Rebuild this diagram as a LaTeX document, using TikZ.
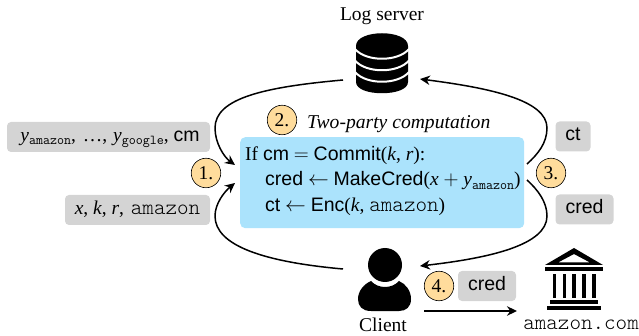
\documentclass[tikz,border=0pt]{standalone}
\usepackage{fontspec}
\setmainfont{Liberation Serif}
\setsansfont{Liberation Sans}
\usetikzlibrary{arrows.meta}
\newcommand{\sv}[1]{\textsf{#1}}
\newcommand{\iv}[1]{\textit{#1}}
\newcommand{\ttv}[1]{{\fontsize{22}{24}\selectfont\fontspec{Latin Modern Mono Light}#1}}
\newcommand{\subtt}[1]{\raisebox{-3.5pt}{\fontsize{13.6}{15}\selectfont\fontspec{Latin Modern Mono}#1}}
\definecolor{stepfill}{HTML}{FFDC9C}
\definecolor{boxblue}{HTML}{ABE3FC}
\tikzset{
  x=1pt,y=-1pt,
  tag/.style={fill=black!17,rounded corners=4pt,inner sep=0pt,font=\fontsize{19.5}{22}\selectfont,minimum height=30pt,text height=13pt,text depth=4pt},
  step num/.style={circle,draw=black,line width=.6pt,fill=stepfill,minimum size=29.5pt,inner sep=0pt,font=\fontsize{19.5}{22}\selectfont},
  flow/.style={line width=1.5pt,-{Stealth[length=10pt,width=9.5pt]}},
  lab/.style={inner sep=0pt,font=\fontsize{19.5}{22}\selectfont},
}
\begin{document}
\begin{tikzpicture}
\useasboundingbox (0,0) rectangle (639,336);
% blue box
\node[fill=boxblue,rounded corners=5pt,anchor=north west,minimum width=284pt,minimum height=91pt,inner sep=0pt] (mpc) at (240,137) {};
\node[anchor=north west,inner sep=0pt,align=left,font=\fontsize{19.5}{25.5}\selectfont] (mpctext) at (245,146)
 {If \sv{cm} $=$ \sv{Commit}(\iv{k}, \iv{r}):\\
  \hspace*{20pt}\sv{cred} $\leftarrow$ \sv{MakeCred}(\iv{x} $+$ \iv{y}\subtt{amazon})\\
  \hspace*{20pt}\sv{ct} $\leftarrow$ \sv{Enc}(\iv{k}, \ttv{amazon})};
% tags
\node[tag,minimum width=203pt] (t1) at (108.5,137) {\hspace*{3pt}\iv{y}\subtt{amazon},\hspace{2pt} \dots,\hspace{1pt} \iv{y}\subtt{google}, \sv{cm}};
\node[tag,minimum width=145pt] (t2) at (137.5,210) {\iv{x}, \iv{k}, \iv{r},\hspace{2pt} \ttv{amazon}};
\node[tag,minimum width=35pt] (t3) at (573,136.5) {\sv{ct}};
\node[tag,minimum width=58pt] (t4) at (584.5,209.5) {\sv{cred}};
\node[tag,minimum width=58pt] (t5) at (487,286) {\sv{cred}};
% step circles
\node[step num] (s1) at (206,173) {1.};
\node[step num] (s2) at (282,120) {2.};
\node[step num] (s3) at (551,173) {3.};
\node[step num] (s4) at (439,286) {4.};
\node[inner sep=0pt,anchor=west,font=\fontsize{19.6}{22}\itshape] (tpc) at (307,124) {Two-party computation};
% labels
\node[lab] (logl) at (382,16) {Log server};
\node[lab] (clientl) at (383,325) {Client};
\node[inner sep=0pt,anchor=east] (amzl) at (639,325) {\ttv{amazon.com}};
% database icon
\fill (356,46) .. controls (356,29) and (408,29) .. (408,46) -- (408,82) .. controls (408,97) and (356,97) .. (356,82) -- cycle;
\foreach \dy in {0,11.5,23}{
  \draw[white,line width=2pt] (355,49+\dy) .. controls (366,62+\dy) and (398,62+\dy) .. (409,49+\dy);
}
% person icon
\fill (385,265) circle[radius=17];
\fill (371,281) .. controls (378,289) and (392,289) .. (399,281) .. controls (406,284) and (411,291) .. (411,299) .. controls (411,307) and (406,311) .. (399,311) -- (371,311) .. controls (362,311) and (358,306) .. (358,299) .. controls (358,291) and (364,284) .. (371,281) -- cycle;
% bank icon
\fill[even odd rule] (574,248) -- (603,265) -- (545,265) -- cycle (574,254) -- (590,262.5) -- (558,262.5) -- cycle;
\fill (545,267.5) rectangle (603,271.5);
\foreach \bx in {552.5,562.5,572,582,592}{\fill (\bx,274) rectangle ++(3.7,24);}
\fill (550,300) rectangle (598,303.5);
\fill (547,305.5) rectangle (601,309.5);
% connector ends
\coordinate (srvL) at (343,80);
\coordinate (srvR) at (420,79);
\coordinate (cliL) at (343,269);
\coordinate (cliR) at (420,266);
\coordinate (cliOut) at (424,311);
\coordinate (bankIn) at (517,311);
\coordinate (boxTL) at (235,165);
\coordinate (boxBL) at (235,183);
\coordinate (boxTR) at (527,164);
\coordinate (boxBR) at (527,180);
\draw[flow] (srvL) .. controls (265,87) and (215,98) .. (215,128) .. controls (215,143) and (224,157) .. (boxTL);
\draw[flow] (cliL) .. controls (265,262) and (215,246) .. (215,216) .. controls (215,204) and (224,192) .. (boxBL);
\draw[flow] (boxTR) .. controls (538,154) and (547,143) .. (547,128) .. controls (547,100) and (490,88) .. (srvR);
\draw[flow] (boxBR) .. controls (538,190) and (547,202) .. (547,216) .. controls (547,245) and (490,258) .. (cliR);
\draw[flow] (cliOut) -- (bankIn);
\end{tikzpicture}
\end{document}
